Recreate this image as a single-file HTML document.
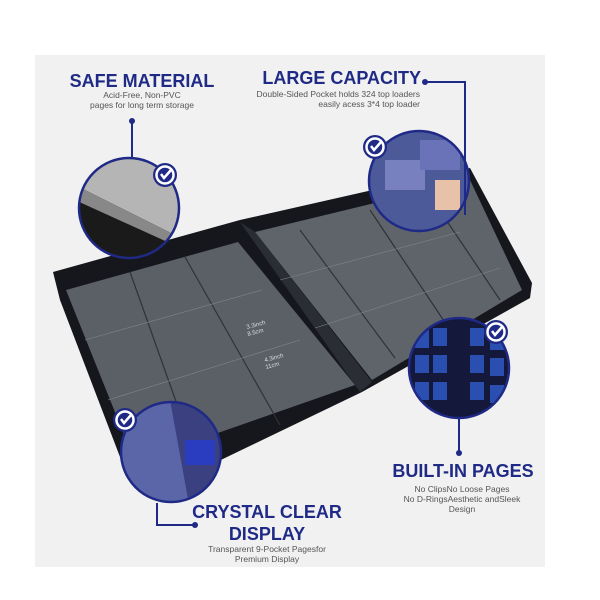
<!DOCTYPE html>
<html><head><style>
html,body{margin:0;padding:0;background:#fff}
svg{display:block}
text{font-family:"Liberation Sans","DejaVu Sans",sans-serif}
.h{font-weight:bold;fill:#1f2a86;font-size:18px}
.s{fill:#555;font-size:8.5px}
</style></head><body>
<svg width="600" height="600" viewBox="0 0 600 600" xmlns="http://www.w3.org/2000/svg">
<defs>
<clipPath id="c1"><circle cx="129" cy="208" r="50"/></clipPath>
<clipPath id="c2"><circle cx="419" cy="181" r="50"/></clipPath>
<clipPath id="c3"><circle cx="459" cy="368" r="50"/></clipPath>
<clipPath id="c4"><circle cx="171" cy="452" r="50"/></clipPath>
<g id="chk"><circle r="12" fill="#1f2a86"/><circle r="8.5" fill="none" stroke="#fff" stroke-width="2.5"/><path d="M-4,-1 L-1,3 L6,-5" fill="none" stroke="#fff" stroke-width="2.5"/></g>
</defs>
<rect x="35" y="55" width="510" height="512" fill="#f1f1f1"/>
<!-- binder -->
<polygon points="53,272 240,220 470,168 532,283 530,298 362,392 200,470 125,470 60,300" fill="#15171c"/>
<polygon points="66,290 238,242 355,385 135,462" fill="#5b6067"/>
<polygon points="255,232 470,180 522,290 372,380" fill="#5f646b"/>
<polygon points="240,222 255,232 372,382 360,392" fill="#2a2d33"/>
<g stroke="#2f3238" stroke-width="1.2">
<line x1="130" y1="272" x2="195" y2="455"/><line x1="185" y1="257" x2="280" y2="425"/>
<line x1="300" y1="230" x2="395" y2="358"/><line x1="370" y1="210" x2="450" y2="330"/><line x1="430" y1="196" x2="500" y2="300"/>
</g>
<g stroke="#80858c" stroke-width="0.6">
<line x1="85" y1="340" x2="262" y2="290"/><line x1="108" y1="400" x2="300" y2="340"/>
<line x1="280" y1="280" x2="460" y2="232"/><line x1="315" y1="328" x2="500" y2="268"/>
</g>
<text x="247" y="329" font-size="6" fill="#ddd" transform="rotate(-15 247 329)">3.3inch</text>
<text x="248" y="336" font-size="6" fill="#ddd" transform="rotate(-15 248 336)">8.5cm</text>
<text x="265" y="362" font-size="6" fill="#ddd" transform="rotate(-15 265 362)">4.3inch</text>
<text x="266" y="369" font-size="6" fill="#ddd" transform="rotate(-15 266 369)">11cm</text>
<!-- circles -->
<g clip-path="url(#c1)"><rect x="75" y="155" width="110" height="110" fill="#1a1a1a"/><polygon points="75,155 185,155 185,240 75,185" fill="#b5b5b5"/><polygon points="75,185 185,240 185,250 75,200" fill="#888"/></g>
<circle cx="129" cy="208" r="50" fill="none" stroke="#1f2a86" stroke-width="2.5"/>
<g clip-path="url(#c2)"><rect x="365" y="128" width="110" height="110" fill="#4c5a9a"/><rect x="385" y="160" width="40" height="30" fill="#7880c0"/><rect x="420" y="140" width="40" height="30" fill="#6a73b8"/><rect x="435" y="180" width="25" height="30" fill="#e8c2a8"/></g>
<circle cx="419" cy="181" r="50" fill="none" stroke="#1f2a86" stroke-width="2.5"/>
<g clip-path="url(#c3)"><rect x="405" y="315" width="110" height="110" fill="#14183a"/>
<g fill="#2a4fb0"><rect x="415" y="330" width="14" height="18"/><rect x="433" y="328" width="14" height="18"/><rect x="470" y="328" width="14" height="18"/><rect x="490" y="332" width="14" height="18"/><rect x="415" y="355" width="14" height="18"/><rect x="433" y="355" width="14" height="18"/><rect x="470" y="355" width="14" height="18"/><rect x="490" y="358" width="14" height="18"/><rect x="415" y="382" width="14" height="18"/><rect x="433" y="382" width="14" height="18"/><rect x="470" y="382" width="14" height="18"/><rect x="490" y="385" width="14" height="18"/></g></g>
<circle cx="459" cy="368" r="50" fill="none" stroke="#1f2a86" stroke-width="2.5"/>
<g clip-path="url(#c4)"><rect x="118" y="400" width="110" height="110" fill="#5a66a8"/><polygon points="170,400 228,400 228,510 190,510" fill="#3a4080"/><rect x="185" y="440" width="30" height="25" fill="#2a3dc0"/></g>
<circle cx="171" cy="452" r="50" fill="none" stroke="#1f2a86" stroke-width="2.5"/>
<use href="#chk" x="165" y="175"/><use href="#chk" x="375" y="147"/><use href="#chk" x="496" y="332"/><use href="#chk" x="125" y="420"/>
<!-- connectors -->
<g stroke="#1f2a86" stroke-width="2" fill="none">
<path d="M132,121 V157"/><path d="M425,82 H465 V215"/><path d="M459,418 V453"/><path d="M157,503 V525 H195"/>
</g>
<g fill="#1f2a86"><circle cx="132" cy="121" r="3"/><circle cx="425" cy="82" r="3"/><circle cx="459" cy="453" r="3"/><circle cx="195" cy="525" r="3"/></g>
<!-- labels -->
<text class="h" x="142" y="87" text-anchor="middle">SAFE MATERIAL</text>
<text class="s" x="142" y="98" text-anchor="middle">Acid-Free, Non-PVC</text>
<text class="s" x="142" y="108" text-anchor="middle">pages for long term storage</text>
<text class="h" x="421" y="84" text-anchor="end">LARGE CAPACITY</text>
<text class="s" x="420" y="97" text-anchor="end">Double-Sided Pocket holds 324 top loaders</text>
<text class="s" x="420" y="107" text-anchor="end">easily acess 3*4 top loader</text>
<text class="h" x="463" y="477" text-anchor="middle">BUILT-IN PAGES</text>
<text class="s" x="462" y="492" text-anchor="middle">No ClipsNo Loose Pages</text>
<text class="s" x="462" y="502" text-anchor="middle">No D-RingsAesthetic andSleek</text>
<text class="s" x="462" y="512" text-anchor="middle">Design</text>
<text class="h" x="267" y="518" text-anchor="middle">CRYSTAL CLEAR</text>
<text class="h" x="267" y="540" text-anchor="middle">DISPLAY</text>
<text class="s" x="267" y="552" text-anchor="middle">Transparent 9-Pocket Pagesfor</text>
<text class="s" x="267" y="562" text-anchor="middle">Premium Display</text>
</svg>
</body></html>
